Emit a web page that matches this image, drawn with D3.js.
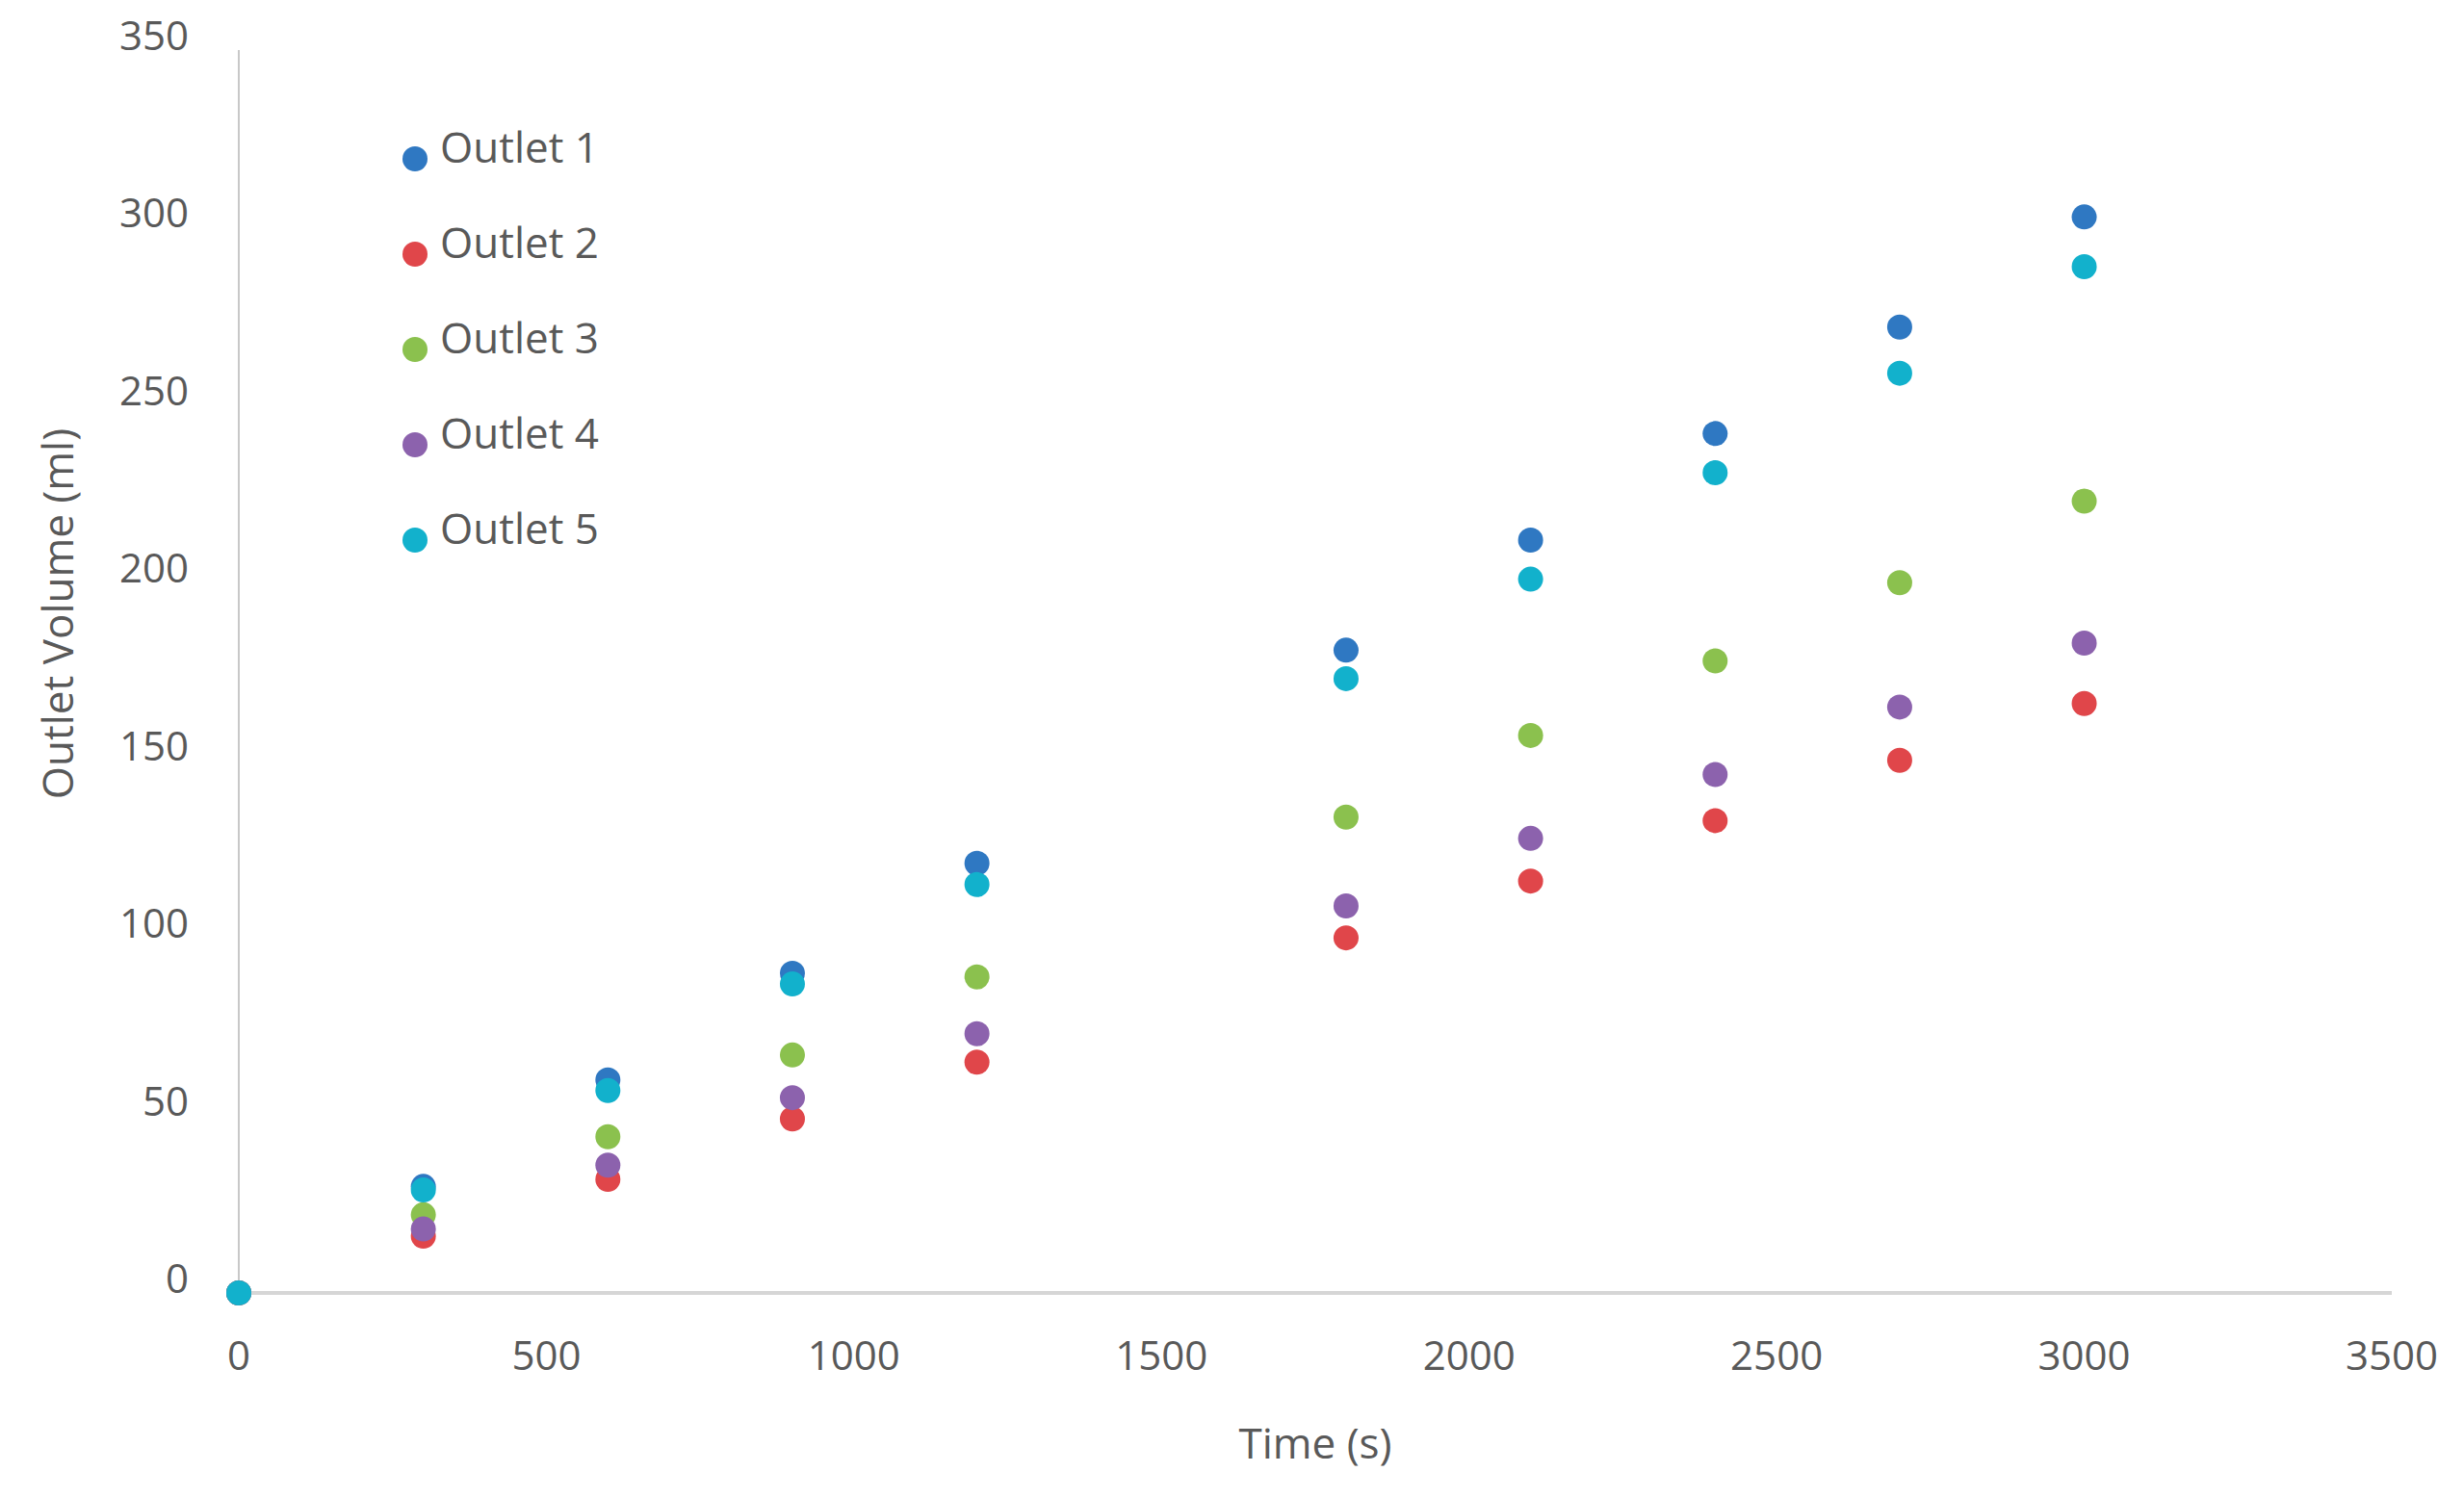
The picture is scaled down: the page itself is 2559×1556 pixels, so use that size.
<!DOCTYPE html>
<html>
<head>
<meta charset="utf-8">
<script src="https://cdn.jsdelivr.net/npm/d3@7"></script>
<style>
  body { margin: 0; background: #fff; }
  text { font-family: "Open Sans", sans-serif; fill: #595959; }
</style>
</head>
<body>
<svg id="chart" width="2559" height="1556"></svg>
<script>
var times = [0, 300, 600, 900, 1200, 1800, 2100, 2400, 2700, 3000];
var outlet1 = [0, 30, 60, 90, 121, 181, 212, 242, 272, 303];
var outlet2 = [0, 16, 32, 49, 65, 100, 116, 133, 150, 166];
var outlet3 = [0, 22, 44, 67, 89, 134, 157, 178, 200, 223];
var outlet4 = [0, 18, 36, 55, 73, 109, 128, 146, 165, 183];
var outlet5 = [0, 29, 57, 87, 115, 173, 201, 231, 259, 289];
var seriesNames = ["Outlet 1", "Outlet 2", "Outlet 3", "Outlet 4", "Outlet 5"];
var xTicks = [0, 500, 1000, 1500, 2000, 2500, 3000, 3500];
var yTicks = [0, 50, 100, 150, 200, 250, 300, 350];

var colors = ["#2f78c2", "#e0464a", "#8bc14e", "#8c62ad", "#12b1cc"];
var series = [outlet1, outlet2, outlet3, outlet4, outlet5];

var margin = {top: 52, right: 75, bottom: 213, left: 248},
    width = 2559 - margin.left - margin.right,
    height = 1556 - margin.top - margin.bottom;

var x = d3.scaleLinear().domain([0, 3500]).range([0, width]);
var y = d3.scaleLinear().domain([0, 350]).range([height, 0]);

var svg = d3.select("#chart").append("g")
    .attr("transform", "translate(" + margin.left + "," + margin.top + ")");

// axes lines
svg.append("line").attr("x1", 0).attr("x2", 0).attr("y1", 0).attr("y2", height)
    .attr("stroke", "#c8c8c8").attr("stroke-width", 2);
svg.append("line").attr("x1", 0).attr("x2", width).attr("y1", height).attr("y2", height)
    .attr("stroke", "#d6d6d6").attr("stroke-width", 4);

svg.selectAll(".ytick").data(yTicks).enter().append("text")
    .attr("x", -52).attr("y", function(d) { return y(d); })
    .attr("dy", "0.0em")
    .attr("text-anchor", "end")
    .style("font-size", "42px")
    .text(function(d) { return d; });

svg.selectAll(".xtick").data(xTicks).enter().append("text")
    .attr("x", function(d) { return x(d); }).attr("y", height + 80)
    .attr("text-anchor", "middle")
    .style("font-size", "42px")
    .text(function(d) { return d; });

svg.append("text")
    .attr("x", width / 2).attr("y", height + 172)
    .attr("text-anchor", "middle")
    .style("font-size", "44px")
    .text("Time (s)");

svg.append("text")
    .attr("transform", "translate(-172," + (height / 2 - 60) + ") rotate(-90)")
    .attr("text-anchor", "middle")
    .style("font-size", "44px")
    .text("Outlet Volume (ml)");

// points
series.forEach(function(vals, i) {
    svg.selectAll(".pt" + i).data(vals).enter().append("circle")
        .attr("cx", function(d, j) { return x(times[j]); })
        .attr("cy", function(d) { return y(d); })
        .attr("r", 13)
        .attr("fill", colors[i]);
});

// legend
var legend = svg.append("g").attr("transform", "translate(183,113)");
seriesNames.forEach(function(name, i) {
    var g = legend.append("g").attr("transform", "translate(0," + (i * 99) + ")");
    g.append("circle").attr("r", 13).attr("fill", colors[i]);
    g.append("text").attr("x", 26).attr("dy", "0.1em").style("font-size", "44px").text(name);
});
</script>
</body>
</html>
